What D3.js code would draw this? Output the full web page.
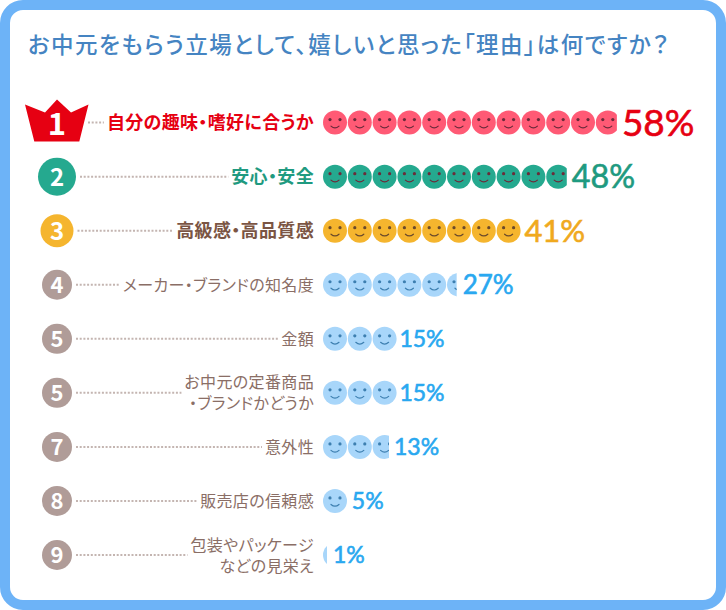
<!DOCTYPE html>
<html>
<head>
  <meta charset="utf-8">
  <script src="https://d3js.org/d3.v7.min.js"></script>
  <style>
    html, body { margin: 0; padding: 0; background: #fff; }
    svg { display: block; }
    text { font-family: "Noto Sans CJK JP", "Noto Sans", sans-serif; }
    .jp { font-feature-settings: "palt"; }
    .pct { font-family: "Lato", "Noto Sans", sans-serif; }
  </style>
</head>
<body>
<script>
// chart data
var title = "お中元をもらう立場として、嬉しいと思った「理由」は何ですか？";
var ranks = ["1", "2", "3", "4", "5", "5", "7", "8", "9"];
var labels = [
  ["自分の趣味・嗜好に合うか"],
  ["安心・安全"],
  ["高級感・高品質感"],
  ["メーカー・ブランドの知名度"],
  ["金額"],
  ["お中元の定番商品", "・ブランドかどうか"],
  ["意外性"],
  ["販売店の信頼感"],
  ["包装やパッケージ", "などの見栄え"]
];
var values = [58, 48, 41, 27, 15, 15, 13, 5, 1];
// how many faces are shown in the picture for each row
var faceUnits = [11.85, 9.83, 8, 5.39, 3, 3, 2.66, 1, 0.16];

var width = 726, height = 610;
var faceR = 12, facePitch = 24.8, barX = 323, labelX = 314, badgeX = 57;
var pctGaps = [5, 5, 3, 6, 2, 2, 5, 4, 6];

// per-row look
function look(i) {
  if (i === 0) return { badge: "#e60012", text: "#e60012", face: "#ff5a75", ink: "#6b2a3a", pct: "#e60012", r: 0, size: 18, weight: 700, pctSize: 37 };
  if (i === 1) return { badge: "#25a98f", text: "#1f9a80", face: "#25a98f", ink: "#6a2c3a", pct: "#1f9a80", r: 19, size: 18, weight: 700, pctSize: 32.3 };
  if (i === 2) return { badge: "#f5b52e", text: "#7b5544", face: "#f5b52e", ink: "#6b4a2a", pct: "#f0a91e", r: 16.5, size: 18, weight: 700, pctSize: 31 };
  return { badge: "#b09c98", text: "#8a6e66", face: "#a8d6fa", ink: "#3d7fb0", pct: "#29a8f0", r: 15, size: 16, weight: 400, pctSize: i === 3 ? 26 : 23 };
}

var svg = d3.select("body").append("svg")
  .attr("width", width)
  .attr("height", height);

// frame
svg.append("rect")
  .attr("x", 5).attr("y", 5)
  .attr("width", width - 10).attr("height", height - 10)
  .attr("rx", 18)
  .attr("fill", "#fff")
  .attr("stroke", "#6db3f7")
  .attr("stroke-width", 10);

svg.append("text")
  .attr("class", "jp")
  .attr("x", 28).attr("y", 52.5)
  .attr("font-size", 22.5)
  .attr("font-weight", 500)
  .attr("letter-spacing", 1.5)
  .attr("fill", "#4584c2")
  .text(title);

var y = d3.scalePoint().domain(d3.range(values.length)).range([122.6, 555]);
var x = d3.scaleLinear().domain([0, 12]).range([0, 12 * facePitch]);

var defs = svg.append("defs");

var rows = svg.selectAll("g.row")
  .data(values)
  .enter().append("g")
    .attr("class", "row")
    .attr("transform", function(d, i) { return "translate(0," + y(i) + ")"; });

rows.each(function(d, i) {
  var g = d3.select(this), st = look(i), w = x(faceUnits[i]);

  // label text
  var label = g.append("text")
    .attr("class", "jp")
    .attr("text-anchor", "end")
    .attr("font-size", st.size)
    .attr("font-weight", st.weight)
    .attr("letter-spacing", 0.35)
    .attr("fill", st.text);
  var lines = labels[i];
  lines.forEach(function(t, k) {
    label.append("tspan")
      .attr("x", labelX)
      .attr("y", (k - (lines.length - 1) / 2) * 21 + (i < 3 ? 6.5 : 6))
      .text(t);
  });

  // dotted leader from badge to label
  var box = label.node().getBBox();
  g.append("line")
    .attr("x1", i === 0 ? 88 : badgeX + st.r + 4)
    .attr("x2", box.x - 3)
    .attr("stroke", "#c4b5b1")
    .attr("stroke-width", 2)
    .attr("stroke-dasharray", "2,1.7");

  // badge
  if (i === 0) {
    g.append("path")
      .attr("d", "M-32,-18 L-12,-10 L0,-23 L14,-10 L31.5,-18 L22.3,19 L-22.7,19 Z")
      .attr("transform", "translate(" + badgeX + ",0)")
      .attr("fill", st.badge);
  } else {
    g.append("circle")
      .attr("cx", badgeX)
      .attr("r", st.r)
      .attr("fill", st.badge);
  }
  g.append("text")
    .attr("x", badgeX).attr("y", i === 0 ? 12 : (i < 3 ? 9 : 8))
    .attr("text-anchor", "middle")
    .attr("font-size", i === 0 ? 31 : (i < 3 ? 24 : 22))
    .attr("font-weight", 700)
    .attr("fill", "#fff")
    .text(ranks[i]);

  // faces, clipped to the shown width
  var clipId = "clip" + i;
  defs.append("clipPath").attr("id", clipId)
    .append("rect")
      .attr("x", barX).attr("y", -20)
      .attr("width", w).attr("height", 40);
  var faces = g.append("g").attr("clip-path", "url(#" + clipId + ")");
  d3.range(Math.ceil(faceUnits[i])).forEach(function(n) {
    var f = faces.append("g")
      .attr("transform", "translate(" + (barX + faceR + n * facePitch) + ",0)");
    f.append("circle").attr("r", faceR).attr("fill", st.face);
    f.append("circle").attr("cx", -5).attr("cy", -3).attr("r", 1.6).attr("fill", st.ink);
    f.append("circle").attr("cx", 5).attr("cy", -3).attr("r", 1.6).attr("fill", st.ink);
    f.append("path")
      .attr("d", "M-4,3.5 Q0,7 4,3.5")
      .attr("fill", "none")
      .attr("stroke", st.ink)
      .attr("stroke-width", 1.2)
      .attr("stroke-linecap", "round");
  });

  // percent
  g.append("text")
    .attr("class", "pct")
    .attr("x", barX + w + pctGaps[i])
    .attr("y", st.pctSize * 0.36)
    .attr("font-size", st.pctSize)
    .attr("fill", st.pct)
    .attr("stroke", st.pct)
    .attr("stroke-width", 0.6)
    .text(d + "%");
});
</script>
</body>
</html>
